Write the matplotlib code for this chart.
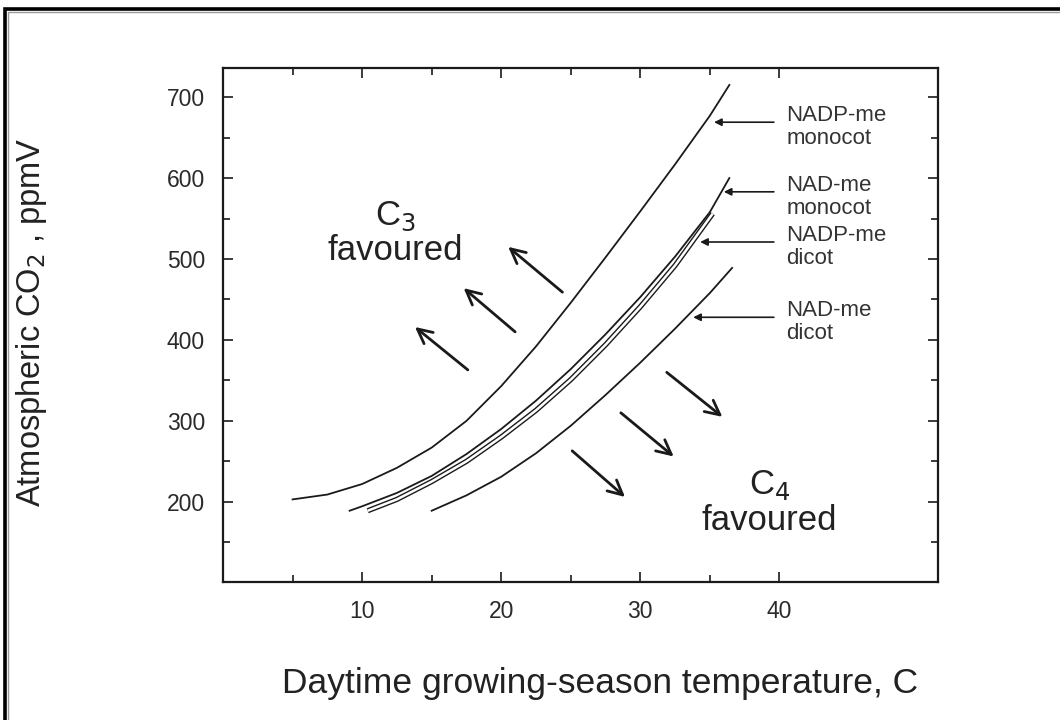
"""
C3 / C4 crossover curves: atmospheric CO2 vs daytime growing-season temperature.
Values read off the published figure by eye.
"""
import matplotlib
matplotlib.use('Agg')
import matplotlib.pyplot as plt
from matplotlib.patches import Rectangle

plt.rcParams['font.family'] = ['Liberation Sans', 'DejaVu Sans']

# crossover curves (temperature C, CO2 ppmV)
NADP_MONO_T = [5.0, 7.5, 10, 12.5, 15, 17.5, 20, 22.5, 25, 27.5, 30, 32.5, 35, 36.4]
NADP_MONO_CO2 = [203, 209, 222, 242, 267, 300, 343, 392, 446, 502, 559, 617, 677, 715]

NAD_MONO_T = [9.1, 10, 12.5, 15, 17.5, 20, 22.5, 25, 27.5, 30, 32.5, 35, 36.4]
NAD_MONO_CO2 = [189, 194.5, 211, 232, 259, 290, 325, 364, 407, 453, 503, 558, 600]

NADP_DICOT_T = [10.4, 12.5, 15, 17.5, 20, 22.5, 25, 27.5, 30, 32.5, 35.2]
NADP_DICOT_CO2 = [189, 203, 225, 250, 280, 313, 351, 394, 441, 492, 556]

NAD_DICOT_T = [15.0, 17.5, 20, 22.5, 25, 27.5, 30, 32.5, 35, 36.6]
NAD_DICOT_CO2 = [189, 208, 231, 260, 294, 332, 372, 414, 458, 489]

CURVE_LABELS = ["NADP-me\nmonocot", "NAD-me\nmonocot", "NADP-me\ndicot", "NAD-me\ndicot"]
# where each label's pointer hits its curve (temperature, CO2)
POINTER_T = [35.3, 36.0, 34.3, 33.8]
POINTER_CO2 = [669, 583, 521, 428]

# direction arrows: tail -> head
C3_TAIL_T = [24.4, 21.0, 17.6]
C3_TAIL_CO2 = [459, 410, 363]
C3_HEAD_T = [20.5, 17.3, 13.8]
C3_HEAD_CO2 = [515, 464, 416]

C4_TAIL_T = [31.9, 28.6, 25.1]
C4_TAIL_CO2 = [360, 310, 263]
C4_HEAD_T = [35.9, 32.4, 28.9]
C4_HEAD_CO2 = [305, 256, 206]

X_MAJOR = [10, 20, 30, 40]
X_MINOR = [5, 15, 25, 35]
Y_MAJOR = [200, 300, 400, 500, 600, 700]
Y_MINOR = [150, 250, 350, 450, 550, 650]

INK = '#1a1a1a'

fig = plt.figure(figsize=(10.6, 7.2), dpi=100)
ax = fig.add_axes([0.2104, 0.1917, 0.6745, 0.7139])

ax.plot(NADP_MONO_T, NADP_MONO_CO2, color=INK, lw=1.3)
ax.plot(NAD_MONO_T, NAD_MONO_CO2, color=INK, lw=1.3)
# the NADP-me dicot curve is drawn as an outlined (double) line in the original
ax.plot(NADP_DICOT_T, NADP_DICOT_CO2, color=INK, lw=3.8, solid_capstyle='butt')
ax.plot(NADP_DICOT_T, NADP_DICOT_CO2, color='white', lw=1.8, solid_capstyle='butt')
ax.plot(NAD_DICOT_T, NAD_DICOT_CO2, color=INK, lw=1.3)

# labels with pointers
for lab, pt, pc in zip(CURVE_LABELS, POINTER_T, POINTER_CO2):
    ax.annotate('', xy=(pt, pc), xytext=(39.6, pc),
                arrowprops=dict(arrowstyle='-|>', color=INK, lw=1.2,
                                mutation_scale=11, shrinkA=0, shrinkB=0))
    ax.text(40.5, pc - 6, lab, ha='left', va='center', fontsize=16,
            color='#333333', linespacing=1.12)

for tt, tc, ht, hc in zip(C3_TAIL_T, C3_TAIL_CO2, C3_HEAD_T, C3_HEAD_CO2):
    ax.annotate('', xy=(ht, hc), xytext=(tt, tc),
                arrowprops=dict(arrowstyle='->', color=INK, lw=2.0,
                                mutation_scale=26, shrinkA=0, shrinkB=0))
for tt, tc, ht, hc in zip(C4_TAIL_T, C4_TAIL_CO2, C4_HEAD_T, C4_HEAD_CO2):
    ax.annotate('', xy=(ht, hc), xytext=(tt, tc),
                arrowprops=dict(arrowstyle='->', color=INK, lw=2.0,
                                mutation_scale=26, shrinkA=0, shrinkB=0))

ax.text(12.4, 532, 'C$_3$\nfavoured', ha='center', va='center', fontsize=25,
        color='#222222', linespacing=1.05)
ax.text(39.3, 199, 'C$_4$\nfavoured', ha='center', va='center', fontsize=25,
        color='#222222', linespacing=1.05)

ax.set_xlim(0, 51.4)
ax.set_ylim(101, 736)
ax.set_xticks(X_MAJOR)
ax.set_xticks(X_MINOR, minor=True)
ax.set_yticks(Y_MAJOR)
ax.set_yticks(Y_MINOR, minor=True)
ax.tick_params(which='both', direction='in', top=True, right=True,
               color=INK, width=1.2)
ax.tick_params(which='major', length=7, labelsize=16.5, pad=13, labelcolor='#2a2a2a')
ax.tick_params(which='minor', length=5)
for sp in ax.spines.values():
    sp.set_linewidth(1.6)
    sp.set_color(INK)

fig.text(0.566, 0.051, 'Daytime growing-season temperature, C', ha='center',
         va='center', fontsize=25.5, color='#222222')
fig.text(0.030, 0.553, 'Atmospheric CO$_2$ , ppmV', ha='center', va='center',
         rotation=90, fontsize=23.5, color='#222222')

# outer frame (only left and top edges fall inside the image)
fig.patches.append(Rectangle((5 / 1060, -0.2), 1.5, 1.2 - 9 / 720,
                             transform=fig.transFigure, fill=False,
                             edgecolor='black', lw=2.6))
fig.patches.append(Rectangle((8 / 1060, -0.2), 1.5, 1.2 - 12 / 720,
                             transform=fig.transFigure, fill=False,
                             edgecolor='#9a9a9a', lw=1.0))

fig.savefig('out.png', dpi=100)
